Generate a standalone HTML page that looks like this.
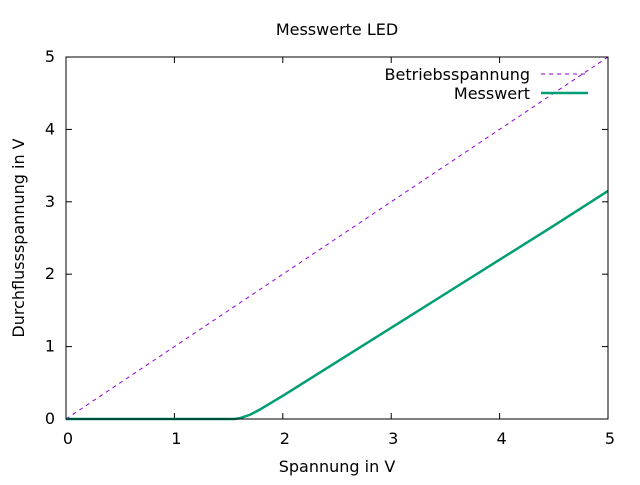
<!DOCTYPE html>
<html><head><meta charset="utf-8"><style>
body{margin:0;background:#fff}
svg text{font-family:"DejaVu Sans","Liberation Sans",sans-serif;font-size:16px;fill:#000}
</style></head><body>
<svg id="c" width="640" height="480" xmlns="http://www.w3.org/2000/svg">
<text x="337" y="35" text-anchor="middle">Messwerte LED</text>
<text x="337" y="472" text-anchor="middle">Spannung in V</text>
<text transform="translate(24,238) rotate(-90)" text-anchor="middle">Durchflussspannung in V</text>
<g id="ticks"></g>
<g id="series"></g>
<rect x="66" y="57" width="542" height="362" fill="none" stroke="#000" stroke-width="1"/>
<g>
<text x="530" y="80" text-anchor="end">Betriebsspannung</text>
<line x1="541" y1="74" x2="588" y2="74" stroke="#9400d3" stroke-width="1" stroke-dasharray="4,4"/>
<text x="530" y="99" text-anchor="end">Messwert</text>
<line x1="541" y1="93" x2="588" y2="93" stroke="#009e73" stroke-width="2.5"/>
</g>
</svg>
<script>
const xTicks=[0,1,2,3,4,5];
const yTicks=[0,1,2,3,4,5];
const refX=[0,5];
const refY=[0,5];
const measX=[0,1.55,1.6,1.7,1.8,1.9,2.0,2.5,3.0,3.5,4.0,4.5,5.0];
const measY=[0,0,0.01,0.06,0.14,0.23,0.32,0.79,1.26,1.73,2.2,2.67,3.15];
const NS="http://www.w3.org/2000/svg";
const sx=v=>66+v*(542/5), sy=v=>419-v*(362/5);
const tg=document.getElementById('ticks'), sg=document.getElementById('series');
function mk(t,a,p){const e=document.createElementNS(NS,t);for(const k in a)e.setAttribute(k,a[k]);p.appendChild(e);return e;}
xTicks.forEach(v=>{
 const l=mk('line',{x1:sx(v),x2:sx(v),y1:419,y2:413,stroke:'#000'},tg);
 
 
 const l2=mk('line',{x1:sx(v),x2:sx(v),y1:57,y2:63,stroke:'#000'},tg);
 
 
 const t=mk('text',{x:sx(v)+2,y:444,'text-anchor':'middle'},tg);t.textContent=v;
 
 
});
yTicks.forEach(v=>{
 const l=mk('line',{x1:66,x2:72,y1:sy(v),y2:sy(v),stroke:'#000'},tg);
 
 
 const l2=mk('line',{x1:602,x2:608,y1:sy(v),y2:sy(v),stroke:'#000'},tg);
 
 
 const t=mk('text',{x:55,y:sy(v)+5,'text-anchor':'end'},tg);t.textContent=v;
 
 
});
const p1=mk('polyline',{points:refX.map((x,i)=>sx(x)+','+sy(refY[i])).join(' '),fill:'none',stroke:'#9400d3','stroke-width':1,'stroke-dasharray':'4,4'},sg);


const p2=mk('polyline',{points:measX.map((x,i)=>sx(x)+','+sy(measY[i])).join(' '),fill:'none',stroke:'#009e73','stroke-width':2.5,'stroke-linejoin':'round'},sg);


</script>
</body></html>
